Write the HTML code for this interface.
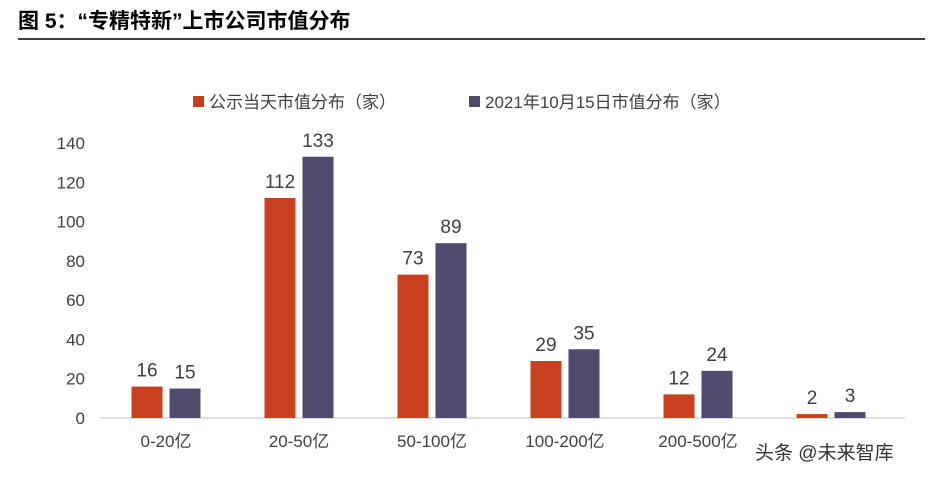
<!DOCTYPE html>
<html><head><meta charset="utf-8"><style>
body{margin:0;background:#fff;width:942px;height:474px;overflow:hidden;font-family:"Liberation Sans","Noto Sans CJK SC",sans-serif}
</style></head><body>
<svg width="942" height="474" xmlns="http://www.w3.org/2000/svg">
<text x="18" y="28" font-size="21" font-weight="bold" fill="#000" font-family="Liberation Sans,Noto Sans CJK SC,sans-serif">图 5：“专精特新”上市公司市值分布</text>
<line x1="18" y1="39" x2="925" y2="39" stroke="#000" stroke-width="1.5"/>
<g id="legend" font-size="17" fill="#404040" font-family="Liberation Sans,Noto Sans CJK SC,sans-serif">
<rect x="193" y="96" width="11" height="11" fill="#C8401E"/>
<text x="209" y="108">公示当天市值分布（家）</text>
<rect x="469" y="96" width="11" height="11" fill="#4F4A6E"/>
<text x="485" y="108">2021年10月15日市值分布（家）</text>
</g>
<g id="plot"></g>
<text x="755" y="459" font-size="19" fill="#333" font-family="Liberation Sans,Noto Sans CJK SC,sans-serif">头条 @未来智库</text>
</svg>
<script>
const categories=["0-20亿","20-50亿","50-100亿","100-200亿","200-500亿","500亿以上"];
const seriesA=[16,112,73,29,12,2];
const seriesB=[15,133,89,35,24,3];
const yTicks=[0,20,40,60,80,100,120,140];
const NS="http://www.w3.org/2000/svg";
const g=document.getElementById('plot');
const x0=99.5,xAxisEnd=905,yBase=418,yTop=143,yMax=140;
const y=v=>yBase-(v/yMax)*(yBase-yTop);
const band=133;
const cx=i=>x0+band*(i+0.5);
function mk(t,a,txt){const e=document.createElementNS(NS,t);for(const k in a)e.setAttribute(k,a[k]);if(txt!==undefined)e.textContent=txt;g.appendChild(e);return e;}
const ff="Liberation Sans,Noto Sans CJK SC,sans-serif";
yTicks.forEach(v=>{
 const t=mk('text',{x:85,y:y(v)+6,'text-anchor':'end','font-size':17,fill:'#404040','font-family':ff},v);
 
 
});
const ax=mk('line',{x1:x0,y1:yBase,x2:xAxisEnd,y2:yBase,stroke:'#bfbfbf','stroke-width':1});


const bw=31,gap=7;
categories.forEach((c,i)=>{
 const c0=cx(i);
 [[seriesA[i],'#C8401E',c0-gap/2-bw,'a'],[seriesB[i],'#4F4A6E',c0+gap/2,'b']].forEach(([v,col,bx,s])=>{
  const r=mk('rect',{x:bx,y:y(v),width:bw,height:yBase-y(v),fill:col});
  
  
  const l=mk('text',{x:bx+bw/2,y:y(v)-10,'text-anchor':'middle','font-size':19,fill:'#404040','font-family':ff},v);
  
  
 });
 if(i<5){
 const t=mk('text',{x:c0,y:447,'text-anchor':'middle','font-size':17,fill:'#404040','font-family':ff},c);
 
 
 }
});
</script>
</body></html>
